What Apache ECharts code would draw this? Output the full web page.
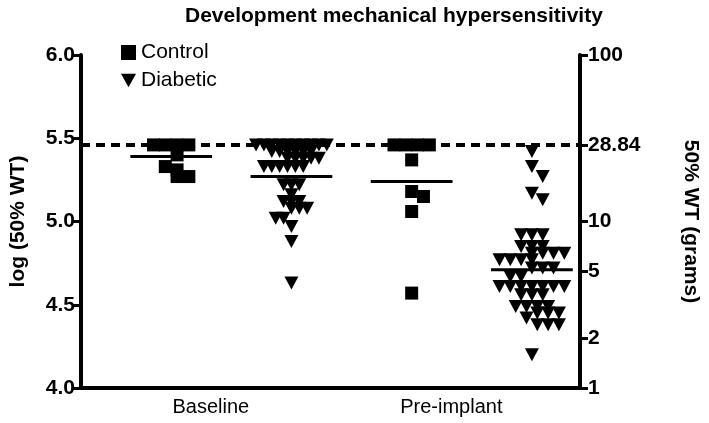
<!DOCTYPE html>
<html><head><meta charset="utf-8">
<script src="https://cdn.jsdelivr.net/npm/echarts@6/dist/echarts.min.js"></script>
<style>html,body{margin:0;padding:0;background:#fff}#c{width:709px;height:423px}</style>
</head><body><div id="c"></div>
<script>
// ---- data (log10 of 50% withdrawal threshold in 0.1 mg units) ----
const categoryLabels = ['Baseline', 'Pre-implant'];
const seriesNames = ['Control', 'Diabetic'];
const baselineControl = [5.46, 5.46, 5.46, 5.46, 5.40, 5.33, 5.31, 5.27, 5.27];
const baselineDiabetic = [5.46,5.46,5.46,5.46,5.46,5.46,5.46,5.46,5.46,5.46,
  5.42,5.42,5.42,5.42,5.42,5.42, 5.38,5.38,5.38,5.38,5.38,
  5.33,5.33,5.33,5.33,5.33,5.33, 5.22,5.22,5.22, 5.16, 5.12,5.12,5.12,
  5.08,5.08,5.08, 5.02,5.02, 4.97, 4.88, 4.63];
const preImplantControl = [5.46, 5.46, 5.46, 5.46, 5.37, 5.18, 5.15, 5.06, 4.57];
const preImplantDiabetic = [5.42, 5.33, 5.27, 5.17, 5.13, 4.92,4.92,4.92,
  4.85,4.85,4.85, 4.81,4.81,4.81,4.81, 4.77,4.77,4.77,4.77, 4.72,4.72,4.72,
  4.67,4.67, 4.61,4.61,4.61,4.61,4.61,4.61,4.61, 4.56,4.56,4.56, 4.49,4.49,4.49,4.49,
  4.45,4.45,4.45, 4.42, 4.38,4.38,4.38, 4.20];
const groupMeans = [5.39, 5.27, 5.24, 4.71];
const leftTicks = [4.0, 4.5, 5.0, 5.5, 6.0];
const rightTickGrams = [1, 2, 5, 10, 28.84, 100];
const thresholdGrams = 28.84;

// ---- layout ----
const G = {left: 75, right: 126, top: 55, bottom: 35};
const X_MIN = -0.75, X_MAX = 3.4;
const LABEL_POS = [0.33, 2.33];
const SPREAD_PX = [12, 8, 12, 11];   // horizontal spacing of points sharing a row
const plotW = 709 - G.left - G.right, plotH = 423 - G.top - G.bottom;
const pxPerX = plotW / (X_MAX - X_MIN), pxPerY = plotH / 2;
const FONT = 'Liberation Sans, Arial, sans-serif';

// column-scatter layout: values within ~4px share a row; each row is centred,
// then shifted sideways by half steps to avoid overlapping rows just above it
function columnScatter(values, group, d) {
  const sorted = values.slice().sort((a, b) => b - a);
  const rows = [];
  sorted.forEach(v => {
    const r = rows[rows.length - 1];
    if (r && Math.abs(r[0] - v) * pxPerY < 4) r.push(v); else rows.push([v]);
  });
  const placed = [];
  rows.forEach(r => {
    const n = r.length;
    const base = r.map((v, i) => ({o: (i - (n - 1) / 2) * d, v: v}));
    let best = null, bestHits = Infinity;
    for (let k = 0; k < 7; k++) {
      const s = k === 0 ? 0 : (k % 2 ? 1 : -1) * Math.ceil(k / 2) * d / 2;
      let hits = 0;
      base.forEach(b => placed.forEach(p => {
        if (Math.abs(p.o - (b.o + s)) < d * 0.9 && Math.abs(p.v - b.v) * pxPerY < 10) hits++;
      }));
      if (hits < bestHits) { bestHits = hits; best = s; }
      if (hits === 0) break;
    }
    base.forEach(b => placed.push({o: b.o + best, v: b.v}));
  });
  return placed.map(p => [group + p.o / pxPerX, p.v]);
}

const downTri = 'path://M0,0 L10,0 L5,9 Z';
const groups = [baselineControl, baselineDiabetic, preImplantControl, preImplantDiabetic];
const series = [];
groups.forEach((vals, gi) => {
  const isCtrl = gi % 2 === 0;
  series.push({
    name: isCtrl ? seriesNames[0] : seriesNames[1],
    type: 'scatter',
    data: columnScatter(vals, gi, SPREAD_PX[gi]),
    symbol: isCtrl ? 'rect' : downTri,
    symbolSize: isCtrl ? 13 : [14, 13],
    itemStyle: {color: '#000', opacity: 1},
    z: 3
  });
});
groupMeans.forEach((m, gi) => {
  series.push({
    type: 'line', data: [[gi - 0.34, m], [gi + 0.34, m]],
    showSymbol: false, symbol: 'none', lineStyle: {color: '#000', width: 3}, z: 4, silent: true
  });
});
const thr = 4 + Math.log10(thresholdGrams);
series.push({
  type: 'line', data: [[X_MIN, thr], [X_MAX, thr]], symbol: 'none',
  lineStyle: {color: '#000', width: 4, type: [9, 6]}, z: 2, silent: true
});

const chart = echarts.init(document.getElementById('c'), null, {renderer: 'canvas'});
chart.setOption({
  animation: false,
  backgroundColor: '#fff',
  title: {
    text: 'Development mechanical hypersensitivity', left: 180, top: 1,
    textStyle: {fontFamily: FONT, fontSize: 21, fontWeight: 'bold', color: '#000'}
  },
  legend: {
    data: seriesNames, orient: 'vertical', left: 116, top: 37, itemGap: 7,
    itemWidth: 15, itemHeight: 15,
    textStyle: {fontFamily: FONT, fontSize: 21, color: '#000'}
  },
  grid: {left: G.left, right: G.right, top: G.top, bottom: G.bottom, containLabel: false},
  xAxis: {
    type: 'value', min: X_MIN, max: X_MAX, splitLine: {show: false},
    axisLine: {onZero: false, lineStyle: {color: '#000', width: 4}},
    axisTick: {show: false},
    axisLabel: {
      customValues: LABEL_POS, margin: 9,
      formatter: v => (Math.abs(v - LABEL_POS[0]) < 1e-6 ? categoryLabels[0] : categoryLabels[1]),
      fontFamily: FONT, fontSize: 20, color: '#000'
    }
  },
  yAxis: [{
    type: 'value', min: 4, max: 6, interval: 0.5, position: 'left',
    name: 'log (50% WT)', nameLocation: 'middle', nameGap: 52,
    nameTextStyle: {fontFamily: FONT, fontSize: 21, fontWeight: 'bold', color: '#000'},
    splitLine: {show: false},
    axisLine: {show: true, onZero: false, lineStyle: {color: '#000', width: 4}},
    axisTick: {show: true, length: 8, lineStyle: {color: '#000', width: 3}},
    axisLabel: {formatter: v => v.toFixed(1), fontFamily: FONT, fontSize: 21, fontWeight: 'bold', color: '#000', margin: 6}
  }, {
    type: 'value', min: 4, max: 6, position: 'right',
    name: '50% WT (grams)', nameLocation: 'middle', nameGap: 100, nameRotate: -90,
    nameTextStyle: {fontFamily: FONT, fontSize: 21, fontWeight: 'bold', color: '#000'},
    splitLine: {show: false},
    axisLine: {show: true, onZero: false, lineStyle: {color: '#000', width: 4}},
    axisTick: {show: true, length: 8, lineStyle: {color: '#000', width: 3},
      customValues: rightTickGrams.map(g => 4 + Math.log10(g))},
    axisLabel: {
      customValues: rightTickGrams.map(g => 4 + Math.log10(g)),
      formatter: v => {
        const g = Math.pow(10, v - 4);
        const hit = rightTickGrams.reduce((a, b) => Math.abs(b - g) < Math.abs(a - g) ? b : a);
        return String(hit);
      },
      fontFamily: FONT, fontSize: 21, fontWeight: 'bold', color: '#000', margin: 8
    }
  }],
  series: series
});
</script></body></html>
